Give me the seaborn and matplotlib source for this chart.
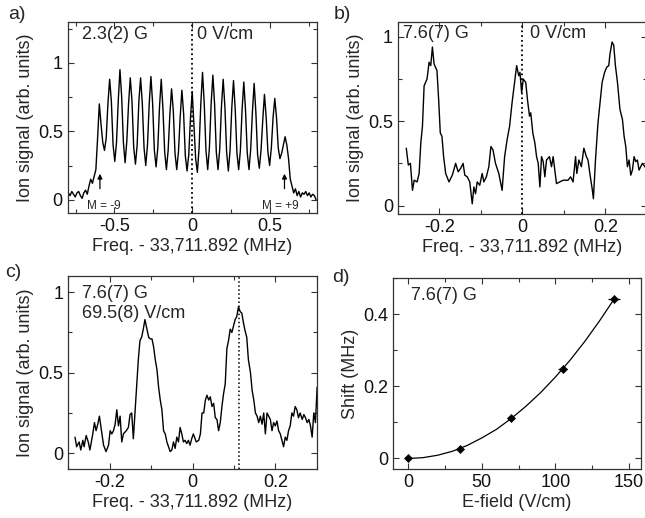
import numpy as np
import matplotlib
matplotlib.use("Agg")
import matplotlib.pyplot as plt
from matplotlib.ticker import MultipleLocator, FuncFormatter
import seaborn as sns
import pandas as pd

# ---- panel a: 2.3(2) G, 0 V/cm (scan axis -0.796 .. 0.796, 145 samples)
a_freq = np.linspace(-0.796, 0.796, 145)
a_signal = [
    0.05, 0.03, 0.06, 0.04, 0.02, 0.05, 0.06, 0.03, 0.01, 0.05, 0.07, 0.04,
    0.10, 0.15, 0.12, 0.17, 0.22, 0.45, 0.70, 0.55, 0.42, 0.36, 0.45, 0.70,
    0.88, 0.72, 0.40, 0.28, 0.42, 0.72, 0.95, 0.75, 0.42, 0.27, 0.43, 0.70,
    0.89, 0.72, 0.38, 0.26, 0.40, 0.72, 0.89, 0.70, 0.38, 0.25, 0.40, 0.70,
    0.90, 0.70, 0.36, 0.24, 0.38, 0.68, 0.88, 0.66, 0.35, 0.22, 0.36, 0.62,
    0.81, 0.65, 0.34, 0.22, 0.35, 0.60, 0.80, 0.63, 0.32, 0.21, 0.33, 0.60,
    0.79, 0.55, 0.30, 0.20, 0.38, 0.70, 0.93, 0.70, 0.36, 0.22, 0.38, 0.70,
    0.91, 0.70, 0.35, 0.22, 0.37, 0.68, 0.88, 0.68, 0.35, 0.21, 0.36, 0.67,
    0.87, 0.66, 0.34, 0.22, 0.36, 0.66, 0.86, 0.65, 0.34, 0.22, 0.37, 0.64,
    0.85, 0.64, 0.33, 0.23, 0.36, 0.58, 0.77, 0.60, 0.35, 0.25, 0.38, 0.60,
    0.74, 0.60, 0.38, 0.30, 0.34, 0.40, 0.46, 0.40, 0.30, 0.15, 0.10, 0.05,
    0.08, 0.03, 0.06, 0.02, 0.05, 0.04, 0.06, 0.03, 0.05, 0.02, 0.04, 0.03,
    0.00,
]

# ---- panel b: 7.6(7) G, 0 V/cm
b_freq = [
    -0.280, -0.275, -0.270, -0.265, -0.261, -0.254, -0.249, -0.245, -0.241, -0.237,
    -0.230, -0.225, -0.221, -0.217, -0.213, -0.206, -0.202, -0.198, -0.194, -0.190,
    -0.185, -0.177, -0.169, -0.161, -0.155, -0.149, -0.143, -0.139, -0.133, -0.127,
    -0.121, -0.117, -0.113, -0.109, -0.103, -0.097, -0.093, -0.087, -0.081, -0.076,
    -0.071, -0.065, -0.057, -0.049, -0.043, -0.037, -0.031, -0.025, -0.020, -0.014,
    -0.009, -0.006, -0.002, 0.002, 0.008, 0.012, 0.017, 0.020, 0.025, 0.030,
    0.034, 0.038, 0.042, 0.046, 0.050, 0.054, 0.058, 0.065, 0.070, 0.074,
    0.082, 0.090, 0.098, 0.110, 0.116, 0.122, 0.128, 0.131, 0.136, 0.142,
    0.148, 0.154, 0.158, 0.163, 0.168, 0.171, 0.176, 0.182, 0.187, 0.192,
    0.198, 0.203, 0.208, 0.211, 0.216, 0.220, 0.224, 0.229, 0.235, 0.241,
    0.245, 0.249, 0.253, 0.257, 0.261, 0.265, 0.269, 0.273, 0.277, 0.281,
    0.289, 0.298,
]
b_signal = [
    0.34, 0.24, 0.25, 0.09, 0.15, 0.14, 0.19, 0.37, 0.47, 0.71,
    0.75, 0.85, 0.83, 0.94, 0.84, 0.80, 0.63, 0.43, 0.41, 0.29,
    0.19, 0.14, 0.18, 0.25, 0.20, 0.22, 0.25, 0.18, 0.17, 0.14,
    0.01, 0.11, 0.07, 0.14, 0.12, 0.19, 0.14, 0.17, 0.23, 0.35,
    0.33, 0.25, 0.19, 0.09, 0.29, 0.39, 0.47, 0.61, 0.71, 0.83,
    0.77, 0.79, 0.67, 0.75, 0.73, 0.63, 0.53, 0.55, 0.43, 0.37,
    0.29, 0.25, 0.11, 0.29, 0.26, 0.17, 0.27, 0.29, 0.23, 0.29,
    0.13, 0.14, 0.15, 0.15, 0.17, 0.14, 0.29, 0.19, 0.27, 0.23,
    0.34, 0.29, 0.27, 0.18, 0.10, 0.04, 0.27, 0.49, 0.61, 0.73,
    0.79, 0.82, 0.83, 0.90, 0.97, 0.95, 0.83, 0.73, 0.57, 0.51,
    0.41, 0.35, 0.23, 0.27, 0.18, 0.21, 0.29, 0.26, 0.27, 0.21,
    0.25, 0.22,
]

# ---- panel c: 7.6(7) G, 69.5(8) V/cm
c_freq = [
    -0.284, -0.280, -0.274, -0.270, -0.265, -0.262, -0.257, -0.252, -0.248, -0.241,
    -0.237, -0.233, -0.229, -0.225, -0.219, -0.215, -0.209, -0.203, -0.199, -0.195,
    -0.191, -0.187, -0.183, -0.179, -0.175, -0.171, -0.167, -0.160, -0.155, -0.151,
    -0.147, -0.143, -0.139, -0.135, -0.131, -0.127, -0.123, -0.119, -0.115, -0.110,
    -0.106, -0.102, -0.098, -0.094, -0.090, -0.086, -0.082, -0.078, -0.074, -0.070,
    -0.066, -0.062, -0.058, -0.054, -0.050, -0.046, -0.042, -0.038, -0.034, -0.030,
    -0.026, -0.022, -0.018, -0.014, -0.010, -0.006, -0.002, 0.002, 0.009, 0.015,
    0.019, 0.023, 0.027, 0.031, 0.035, 0.039, 0.043, 0.047, 0.051, 0.055,
    0.059, 0.063, 0.067, 0.071, 0.075, 0.079, 0.083, 0.087, 0.091, 0.095,
    0.099, 0.103, 0.107, 0.111, 0.115, 0.119, 0.123, 0.127, 0.131, 0.135,
    0.140, 0.144, 0.148, 0.152, 0.156, 0.160, 0.164, 0.168, 0.172, 0.176,
    0.180, 0.184, 0.188, 0.192, 0.196, 0.200, 0.204, 0.208, 0.212, 0.216,
    0.220, 0.224, 0.228, 0.232, 0.236, 0.240, 0.244, 0.248, 0.252, 0.256,
    0.260, 0.265, 0.269, 0.273, 0.277, 0.281, 0.285, 0.289, 0.293, 0.297,
    0.301,
]
c_signal = [
    0.10, 0.04, 0.07, 0.02, 0.08, 0.04, 0.11, 0.07, 0.02, 0.12,
    0.19, 0.14, 0.18, 0.23, 0.12, 0.05, 0.01, 0.05, 0.14, 0.12,
    0.14, 0.18, 0.27, 0.17, 0.23, 0.07, 0.12, 0.14, 0.16, 0.24,
    0.25, 0.09, 0.25, 0.41, 0.58, 0.70, 0.72, 0.77, 0.83, 0.77,
    0.72, 0.71, 0.71, 0.66, 0.58, 0.52, 0.41, 0.33, 0.27, 0.14,
    0.12, 0.07, 0.04, 0.01, 0.02, 0.07, 0.03, 0.10, 0.07, 0.16,
    0.12, 0.07, 0.08, 0.06, 0.08, 0.05, 0.09, 0.12, 0.07, 0.08,
    0.12, 0.25, 0.25, 0.33, 0.36, 0.33, 0.35, 0.29, 0.31, 0.22,
    0.21, 0.14, 0.19, 0.29, 0.37, 0.43, 0.65, 0.70, 0.77, 0.75,
    0.79, 0.83, 0.85, 0.91, 0.88, 0.87, 0.81, 0.76, 0.72, 0.58,
    0.50, 0.39, 0.33, 0.25, 0.23, 0.19, 0.23, 0.18, 0.25, 0.12,
    0.25, 0.23, 0.21, 0.14, 0.19, 0.17, 0.20, 0.14, 0.12, 0.08,
    0.04, 0.10, 0.08, 0.14, 0.17, 0.25, 0.23, 0.29, 0.27, 0.22,
    0.25, 0.21, 0.24, 0.22, 0.19, 0.21, 0.17, 0.10, 0.25, 0.19,
    0.41,
]

# ---- panel d: Stark shift vs field
d_field = [0, 35, 70, 105, 140]
d_shift = [0.0, 0.027, 0.113, 0.248, 0.443]
d_field_err = [0.5, 1.0, 2.0, 3.0, 4.0]
fit_field = [0, 10, 20, 30, 40, 50, 60, 70, 80, 90, 100, 110, 120, 130, 140]
fit_shift = [0.0, 0.0023, 0.009, 0.020, 0.036, 0.057, 0.081, 0.111, 0.145,
             0.183, 0.226, 0.273, 0.325, 0.382, 0.443]

sns.set_theme(style="ticks")
plt.rcParams["font.family"] = ["Liberation Sans", "DejaVu Sans"]
plt.rcParams["axes.unicode_minus"] = False
plt.rcParams["axes.edgecolor"] = "#333333"
plt.rcParams["axes.linewidth"] = 0.9

FS = 13
fig = plt.figure(figsize=(6.45, 5.18), dpi=100)
ax_a = fig.add_axes([0.105, 0.588, 0.386, 0.370])
ax_b = fig.add_axes([0.617, 0.587, 0.386, 0.371])
ax_c = fig.add_axes([0.106, 0.094, 0.385, 0.373])
ax_d = fig.add_axes([0.610, 0.094, 0.3836, 0.369])

fmt = FuncFormatter(lambda v, p: f"{v:g}")


def style(ax, xmaj, xmin, ymaj, ymin):
    ax.xaxis.set_major_locator(MultipleLocator(xmaj))
    ax.xaxis.set_minor_locator(MultipleLocator(xmin))
    ax.yaxis.set_major_locator(MultipleLocator(ymaj))
    ax.yaxis.set_minor_locator(MultipleLocator(ymin))
    ax.xaxis.set_major_formatter(fmt)
    ax.yaxis.set_major_formatter(fmt)
    ax.tick_params(which="both", direction="in", top=True, right=True,
                   color="#333333", width=0.8, labelsize=FS, labelcolor="#111111")
    ax.tick_params(which="major", length=4)
    ax.tick_params(which="minor", length=3)


def spectrum(ax, x, y):
    sns.lineplot(x=x, y=y, ax=ax, color="black", linewidth=1.0, estimator=None, sort=False)


# a)
spectrum(ax_a, a_freq, a_signal)
ax_a.axvline(0, color="black", linestyle=":", linewidth=1.3)
ax_a.set_xlim(-0.8, 0.8)
ax_a.set_ylim(-0.1, 1.3)
style(ax_a, 0.5, 0.25, 0.5, 0.25)
ax_a.text(-0.71, 1.21, "2.3(2) G", fontsize=FS, va="center")
ax_a.text(0.03, 1.21, "0 V/cm", fontsize=FS, va="center")
ax_a.annotate("", xy=(-0.593, 0.21), xytext=(-0.593, 0.06),
              arrowprops=dict(arrowstyle="-|>", color="black", lw=0.9, mutation_scale=7))
ax_a.annotate("", xy=(0.593, 0.21), xytext=(0.593, 0.06),
              arrowprops=dict(arrowstyle="-|>", color="black", lw=0.9, mutation_scale=7))
ax_a.text(-0.675, -0.045, "M = -9", fontsize=8.5, va="center")
ax_a.text(0.685, -0.045, "M = +9", fontsize=8.5, va="center", ha="right")

# b)
spectrum(ax_b, b_freq, b_signal)
ax_b.axvline(0, color="black", linestyle=":", linewidth=1.3)
ax_b.set_xlim(-0.3, 0.3)
ax_b.set_ylim(-0.05, 1.09)
style(ax_b, 0.2, 0.1, 0.5, 0.25)
ax_b.text(-0.288, 1.02, "7.6(7) G", fontsize=FS, va="center")
ax_b.text(0.017, 1.02, "0 V/cm", fontsize=FS, va="center")

# c)
spectrum(ax_c, c_freq, c_signal)
ax_c.axvline(0.113, color="black", linestyle=":", linewidth=1.1)
ax_c.set_xlim(-0.3, 0.3)
ax_c.set_ylim(-0.1, 1.1)
style(ax_c, 0.2, 0.1, 0.5, 0.25)
ax_c.text(-0.268, 0.99, "7.6(7) G", fontsize=FS, va="center")
ax_c.text(-0.268, 0.87, "69.5(8) V/cm", fontsize=FS, va="center")

# d)
sns.lineplot(x=fit_field, y=fit_shift, ax=ax_d, color="black", linewidth=0.9, estimator=None)
ax_d.errorbar(d_field, d_shift, xerr=d_field_err, fmt="none", ecolor="black", elinewidth=0.9)
sns.scatterplot(x=d_field, y=d_shift, ax=ax_d, marker="D", color="black", s=18,
                edgecolor="black", zorder=3)
ax_d.set_xlim(-10, 158)
ax_d.set_ylim(-0.03, 0.5)
style(ax_d, 50, 25, 0.2, 0.1)
ax_d.text(1.6, 0.451, "7.6(7) G", fontsize=FS, va="center")

for ax in (ax_a, ax_b, ax_c):
    ax.set_xlabel("Freq. - 33,711.892 (MHz)", fontsize=FS, labelpad=2)
    ax.set_ylabel("Ion signal (arb. units)", fontsize=FS, labelpad=3)
ax_d.set_xlabel("E-field (V/cm)", fontsize=FS, labelpad=2)
ax_d.set_ylabel("Shift (MHz)", fontsize=FS, labelpad=3)

fig.text(0.012, 0.988, "a)", fontsize=14, va="top")
fig.text(0.518, 0.988, "b)", fontsize=14, va="top")
fig.text(0.008, 0.490, "c)", fontsize=14, va="top")
fig.text(0.515, 0.480, "d)", fontsize=14, va="top")

fig.savefig("out.png", dpi=100)
